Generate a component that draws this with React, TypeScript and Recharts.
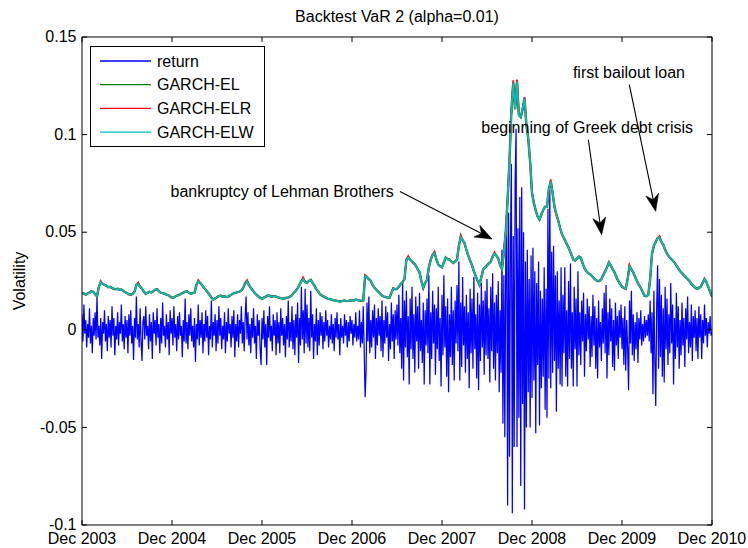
import React from 'react';
import { LineChart, Line, XAxis, YAxis, Legend, ReferenceLine, ReferenceDot, Label } from 'recharts';

const FONT = '"Liberation Sans", Arial, Helvetica, sans-serif';

// ---- axes ----
const yearTicks = [0, 1, 2, 3, 4, 5, 6, 7];
const yearLabels = ['Dec 2003', 'Dec 2004', 'Dec 2005', 'Dec 2006', 'Dec 2007', 'Dec 2008', 'Dec 2009', 'Dec 2010'];
const yTicks = [-0.1, -0.05, 0, 0.05, 0.1, 0.15];
const yLabels = ['-0.1', '-0.05', '0', '0.05', '0.1', '0.15'];
const seriesOrder = ['return', 'GARCH-EL', 'GARCH-ELR', 'GARCH-ELW'];

// ---- series (values in percent) ----
const returnsPerYear = 96;
const returnPct = [
  0.8,-0.6,1.3,-0.2,0.5,-0.9,0.3,-0.4,1.1,-0.7,0.2,-1.2,0.6,-0.3,0.9,-0.5,
  1.7,-0.4,0.2,-0.8,0.6,-1.5,0.4,-0.2,1.0,-0.6,0.3,-1.1,0.7,-0.4,0.5,-0.9,
  1.2,-0.3,0.6,-1.3,0.2,-0.5,0.9,-0.8,0.4,-0.2,1.3,-0.6,0.3,-1.0,0.7,-0.4,
  0.5,-1.2,0.8,-0.3,1.0,-0.7,0.2,-1.55,0.6,-0.4,1.7,-0.5,0.3,-0.9,1.1,-0.6,
  -1.6,0.4,0.7,-0.5,1.2,-0.3,0.2,-1.0,0.8,-0.6,0.4,-1.5,0.9,-0.2,0.5,-0.8,
  1.1,-0.4,0.3,-1.2,0.6,-0.7,1.4,-0.3,0.2,-0.9,0.8,-0.5,0.4,-1.3,1.0,-0.2,
  0.6,-0.8,1.2,-0.4,0.3,-1.1,0.7,-0.5,0.9,-0.3,0.2,-1.4,0.5,-0.6,1.6,-0.7,
  0.4,-1.0,0.8,-0.3,1.1,-0.6,0.2,-0.9,0.6,-1.65,0.3,-0.5,1.3,-0.8,0.5,-0.4,
  0.9,-1.2,0.3,-0.6,1.0,-0.4,0.7,-1.3,0.2,-0.5,1.5,-0.9,0.4,-0.3,0.8,-1.1,
  0.5,-0.7,1.2,-0.3,0.6,-1.0,0.2,-0.5,0.9,-1.2,0.4,-0.6,1.1,-0.2,0.3,-0.9,
  0.7,-0.4,1.0,-1.4,0.3,-0.6,0.8,-0.9,0.5,-0.2,1.2,-0.7,0.4,-1.1,0.6,1.7,
  -0.5,0.9,-0.8,0.3,-1.2,0.6,-0.4,1.1,-0.7,0.2,-1.5,0.8,-0.3,0.5,-1.0,-1.8,
  0.6,-0.5,1.0,-0.9,0.3,-1.8,0.7,-0.4,1.2,-0.6,0.2,-1.1,0.8,-0.3,0.5,-1.3,
  0.9,-0.7,0.4,-1.2,1.1,-0.3,0.6,-0.8,0.3,-1.4,0.7,-0.5,1.5,-0.9,0.4,-0.6,
  1.2,-1.0,0.5,-1.3,0.8,-0.4,1.4,-1.7,0.6,-0.8,2.2,-0.5,1.0,-1.2,2.1,-0.7,
  1.3,-0.9,0.6,-1.1,2.0,-0.4,0.8,-1.5,0.3,-0.6,1.1,-1.3,0.5,-0.8,0.9,-0.3,
  0.7,-1.0,0.4,-0.6,1.0,-0.3,0.5,-0.9,0.2,-0.5,0.8,-0.7,0.3,-1.1,0.6,-0.4,
  0.9,-0.5,0.3,-1.3,0.6,-0.4,0.2,-0.7,0.8,-0.3,0.5,-0.9,0.4,-0.6,0.7,-0.2,
  0.5,-0.8,0.3,-0.4,0.9,-0.6,0.2,-0.5,1.0,-0.9,0.4,-0.7,1.2,-1.0,-3.45,-2.1,
  1.4,-0.6,1.7,-1.2,0.5,-0.9,1.0,-0.4,1.3,-1.5,0.6,-0.8,1.1,-0.3,0.7,-1.1,
  1.5,-1.4,0.5,-0.7,1.2,-0.4,0.9,-1.6,0.3,-1.0,1.4,-0.6,0.8,-1.5,1.0,-0.5,
  1.3,-0.8,1.8,-1.2,0.6,-2.0,2.5,-2.6,1.5,-0.9,2.0,-1.4,0.7,-2.8,1.6,-1.0,
  2.2,-1.5,0.8,-2.2,1.7,-0.6,1.2,-2.0,1.9,-1.1,0.5,-1.7,1.4,-2.8,1.0,-0.8,
  1.6,-1.2,2.8,-2.8,0.9,-1.5,2.0,-0.7,1.3,-2.3,1.1,-1.0,2.2,-1.6,0.6,-2.9,
  1.8,-1.3,2.8,-0.9,1.2,-2.4,1.6,-3.2,0.8,-1.4,2.2,-1.8,1.0,-2.6,1.5,-0.7,
  2.3,-1.1,3.5,-2.6,1.4,-1.9,2.7,-0.8,1.2,-2.2,1.8,-1.5,0.9,-3.0,2.1,-1.2,
  1.6,-2.0,2.7,-1.0,0.8,-2.5,1.9,-3.1,1.3,-1.6,2.4,-0.9,1.5,-2.3,2.0,-1.3,
  2.6,-1.5,1.1,-2.7,2.2,-1.1,2.9,-2.0,1.4,-2.6,1.8,-1.2,2.5,-3.2,1.0,-2.2,
  4.1,-4.8,2.8,-5.5,3.6,5.5,-9.0,6.0,-6.5,4.5,8.5,-9.4,4.8,-6.0,7.5,10.3,
  -6.0,5.2,-4.5,6.8,-8.0,7.3,-3.8,5.0,-9.2,3.5,-5.0,4.1,-3.2,2.6,-5.0,3.8,
  -3.5,4.2,-2.6,3.0,-5.3,2.4,-1.8,3.5,-4.9,2.0,-3.0,1.6,-2.4,3.2,-4.1,2.1,
  -4.5,6.2,-2.5,7.2,-3.0,4.0,-2.2,4.3,-1.6,2.8,-4.2,3.0,-2.0,1.5,-2.8,3.2,
  -2.9,1.8,-1.2,3.2,-2.4,1.0,-2.9,2.5,-1.5,3.4,-2.0,0.9,-2.9,2.2,-1.0,1.6,
  -2.9,3.0,-1.3,0.9,-1.8,1.5,-0.6,1.9,-2.4,0.8,-1.1,1.6,-0.5,1.2,-1.9,0.7,
  -1.4,1.8,-0.8,1.2,-2.0,0.6,-2.5,1.5,-0.9,0.4,-1.6,1.1,-0.7,1.9,-1.2,2.3,
  -2.5,0.9,-1.3,1.6,-0.6,1.1,-1.9,0.5,-2.1,1.4,-0.8,0.7,-1.5,1.0,-0.4,1.3,
  -1.0,0.6,-1.8,1.2,-2.1,0.5,-0.9,-3.1,1.5,-0.7,2.0,-1.3,0.8,-1.6,0.4,-1.0,
  0.9,-1.7,0.6,-0.5,1.0,-0.8,0.3,-0.6,0.7,-0.4,0.5,-0.3,0.8,-0.6,1.5,-1.2,
  0.9,-3.3,2.0,-1.5,-3.9,1.2,3.3,-2.0,2.6,-1.4,1.8,-2.4,1.1,-2.7,2.2,-1.0,
  1.6,-1.8,0.8,-1.2,2.4,-0.7,1.3,-2.8,0.6,-1.5,1.9,-0.9,1.2,-2.0,0.5,-1.3,
  1.4,-0.8,0.6,-1.9,1.1,-0.5,1.7,-1.2,0.4,-0.9,1.3,-1.6,0.7,-0.4,1.0,-1.1,
  0.6,-1.5,1.2,-0.4,0.8,-1.5,0.5,-0.7,1.3,-0.3,0.6,-0.9,0.4,-0.2,0.7,-0.3,
  -0.1,
];

const varPerYear = 48;
const garchELPct = [
  1.9,1.85,1.8,1.86,1.9,1.97,1.95,1.82,1.72,2.2,2.45,2.36,2.3,2.26,2.18,2.2,
  2.15,2.1,2.08,2.1,2.05,2.06,2.0,1.92,1.88,1.82,1.8,1.84,1.95,2.3,2.35,2.2,
  2.1,1.95,1.85,1.9,1.95,1.92,1.98,2.05,2.08,1.98,1.9,1.88,1.85,1.8,1.78,1.7,
  1.64,1.66,1.72,1.76,1.8,1.86,1.9,1.95,1.97,1.9,1.85,1.88,1.9,2.3,2.48,2.4,
  2.3,2.15,2.05,1.92,1.8,1.65,1.55,1.6,1.68,1.72,1.75,1.7,1.72,1.68,1.7,1.76,
  1.82,1.88,1.9,1.93,1.95,2.02,2.15,2.4,2.48,2.3,2.15,2.02,1.9,1.8,1.72,1.64,
  1.58,1.65,1.7,1.76,1.75,1.7,1.72,1.72,1.68,1.64,1.62,1.6,1.6,1.64,1.65,1.7,
  1.78,1.9,2.0,2.12,2.3,2.5,2.6,2.45,2.4,2.5,2.56,2.4,2.25,2.08,1.95,1.82,
  1.75,1.7,1.65,1.6,1.58,1.55,1.52,1.5,1.48,1.46,1.45,1.48,1.5,1.47,1.48,1.5,
  1.52,1.5,1.55,1.52,1.5,1.48,1.5,2.75,2.7,2.6,2.5,2.3,2.15,2.05,1.95,1.85,
  1.75,1.7,1.68,1.64,1.65,1.9,2.12,2.08,2.1,2.2,2.35,2.45,2.6,3.6,3.7,3.6,
  3.5,3.4,3.3,3.1,2.95,2.5,2.15,2.4,2.56,3.2,3.6,3.85,3.93,3.6,3.35,3.25,
  3.2,3.45,3.7,3.62,3.6,3.5,3.42,3.5,3.6,4.3,4.75,4.6,4.44,4.1,3.8,3.55,
  3.3,3.0,2.75,2.5,2.3,2.7,3.1,3.2,3.3,3.4,3.5,3.75,3.9,3.8,3.65,3.3,
  3.1,4.0,5.0,6.7,8.7,11.2,12.65,11.3,12.7,11.0,10.9,11.3,11.85,10.5,9.8,8.6,
  7.0,6.5,6.1,5.8,5.65,5.9,6.15,6.3,6.3,7.2,7.6,7.0,6.3,5.9,5.6,5.2,
  4.9,4.7,4.5,4.3,4.1,3.85,3.6,3.55,3.65,3.75,3.7,3.4,3.15,3.0,2.9,2.85,
  2.75,2.65,2.55,2.5,2.5,2.6,2.8,3.0,3.2,3.45,3.3,3.1,2.95,2.7,2.5,2.35,
  2.2,2.15,2.1,2.6,3.25,3.1,2.95,2.7,2.5,2.3,2.15,1.95,1.75,1.72,1.78,2.6,
  3.9,4.3,4.5,4.7,4.75,4.5,4.35,4.1,3.9,3.75,3.65,3.55,3.45,3.3,3.15,3.0,
  2.9,2.8,2.7,2.6,2.5,2.35,2.25,2.15,2.1,2.15,2.2,2.4,2.6,2.45,2.2,1.95,
  1.7,
];
const garchELRPct = [
  1.9,1.85,1.8,1.86,1.9,1.97,1.95,1.82,1.72,2.2,2.5,2.36,2.3,2.26,2.18,2.2,
  2.15,2.1,2.08,2.1,2.05,2.06,2.0,1.92,1.88,1.82,1.8,1.84,1.95,2.3,2.42,2.2,
  2.1,1.95,1.85,1.9,1.95,1.92,1.98,2.05,2.08,1.98,1.9,1.88,1.85,1.8,1.78,1.7,
  1.64,1.66,1.72,1.76,1.8,1.86,1.9,1.95,1.97,1.9,1.85,1.88,1.9,2.3,2.55,2.4,
  2.3,2.15,2.05,1.92,1.8,1.65,1.55,1.6,1.68,1.72,1.75,1.7,1.72,1.68,1.7,1.76,
  1.82,1.88,1.9,1.93,1.95,2.02,2.15,2.4,2.55,2.3,2.15,2.02,1.9,1.8,1.72,1.64,
  1.58,1.65,1.7,1.76,1.75,1.7,1.72,1.72,1.68,1.64,1.62,1.6,1.6,1.64,1.65,1.7,
  1.78,1.9,2.0,2.12,2.3,2.5,2.68,2.45,2.4,2.5,2.56,2.4,2.25,2.08,1.95,1.82,
  1.75,1.7,1.65,1.6,1.58,1.55,1.52,1.5,1.48,1.46,1.45,1.48,1.5,1.47,1.48,1.5,
  1.52,1.5,1.55,1.52,1.5,1.48,1.5,2.8,2.7,2.6,2.5,2.3,2.15,2.05,1.95,1.85,
  1.75,1.7,1.68,1.64,1.65,1.9,2.12,2.08,2.1,2.2,2.35,2.45,2.6,3.6,3.78,3.6,
  3.5,3.4,3.3,3.1,2.95,2.5,2.15,2.4,2.56,3.2,3.6,3.85,4.0,3.6,3.35,3.25,
  3.2,3.45,3.7,3.62,3.6,3.5,3.42,3.5,3.6,4.3,4.85,4.6,4.44,4.1,3.8,3.55,
  3.3,3.0,2.75,2.5,2.3,2.7,3.1,3.2,3.3,3.4,3.5,3.75,3.98,3.8,3.65,3.3,
  3.1,4.0,5.0,6.7,8.7,11.2,12.78,11.3,12.82,11.0,10.9,11.3,11.92,10.5,9.8,8.6,
  7.0,6.5,6.1,5.8,5.65,5.9,6.15,6.3,6.3,7.2,7.7,7.0,6.3,5.9,5.6,5.2,
  4.9,4.7,4.5,4.3,4.1,3.85,3.6,3.55,3.65,3.75,3.7,3.4,3.15,3.0,2.9,2.85,
  2.75,2.65,2.55,2.5,2.5,2.6,2.8,3.0,3.2,3.45,3.3,3.1,2.95,2.7,2.5,2.35,
  2.2,2.15,2.1,2.6,3.32,3.1,2.95,2.7,2.5,2.3,2.15,1.95,1.75,1.72,1.78,2.6,
  3.9,4.3,4.5,4.7,4.8,4.5,4.35,4.1,3.9,3.75,3.65,3.55,3.45,3.3,3.15,3.0,
  2.9,2.8,2.7,2.6,2.5,2.35,2.25,2.15,2.1,2.15,2.2,2.4,2.6,2.45,2.2,1.95,
  1.7,
];
const garchELWPct = [
  1.9,1.85,1.8,1.86,1.9,1.97,1.95,1.82,1.72,2.2,2.45,2.36,2.3,2.26,2.18,2.2,
  2.15,2.1,2.08,2.1,2.05,2.06,2.0,1.92,1.88,1.82,1.8,1.84,1.95,2.3,2.35,2.2,
  2.1,1.95,1.85,1.9,1.95,1.92,1.98,2.05,2.08,1.98,1.9,1.88,1.85,1.8,1.78,1.7,
  1.64,1.66,1.72,1.76,1.8,1.86,1.9,1.95,1.97,1.9,1.85,1.88,1.9,2.3,2.48,2.4,
  2.3,2.15,2.05,1.92,1.8,1.65,1.55,1.6,1.68,1.72,1.75,1.7,1.72,1.68,1.7,1.76,
  1.82,1.88,1.9,1.93,1.95,2.02,2.15,2.4,2.48,2.3,2.15,2.02,1.9,1.8,1.72,1.64,
  1.58,1.65,1.7,1.76,1.75,1.7,1.72,1.72,1.68,1.64,1.62,1.6,1.6,1.64,1.65,1.7,
  1.78,1.9,2.0,2.12,2.3,2.5,2.6,2.45,2.4,2.5,2.56,2.4,2.25,2.08,1.95,1.82,
  1.75,1.7,1.65,1.6,1.58,1.55,1.52,1.5,1.48,1.46,1.45,1.48,1.5,1.47,1.48,1.5,
  1.52,1.5,1.55,1.52,1.5,1.48,1.5,2.75,2.7,2.6,2.5,2.3,2.15,2.05,1.95,1.85,
  1.75,1.7,1.68,1.64,1.65,1.9,2.12,2.08,2.1,2.2,2.35,2.45,2.6,3.6,3.7,3.6,
  3.5,3.4,3.3,3.1,2.95,2.5,2.15,2.4,2.56,3.2,3.6,3.85,3.93,3.6,3.35,3.25,
  3.2,3.45,3.7,3.62,3.6,3.5,3.42,3.5,3.6,4.3,4.75,4.6,4.44,4.1,3.8,3.55,
  3.3,3.0,2.75,2.5,2.3,2.7,3.1,3.2,3.3,3.4,3.5,3.75,3.9,3.8,3.65,3.3,
  3.1,4.0,5.0,6.7,8.7,11.2,12.65,11.3,12.7,11.0,10.9,11.3,11.85,10.5,9.8,8.6,
  7.0,6.5,6.1,5.8,5.65,5.9,6.15,6.3,6.3,7.2,7.6,7.0,6.3,5.9,5.6,5.2,
  4.9,4.7,4.5,4.3,4.1,3.85,3.6,3.55,3.65,3.75,3.7,3.4,3.15,3.0,2.9,2.85,
  2.75,2.65,2.55,2.5,2.5,2.6,2.8,3.0,3.2,3.45,3.3,3.1,2.95,2.7,2.5,2.35,
  2.2,2.15,2.1,2.6,3.25,3.1,2.95,2.7,2.5,2.3,2.15,1.95,1.75,1.72,1.78,2.6,
  3.9,4.3,4.5,4.7,4.75,4.5,4.35,4.1,3.9,3.75,3.65,3.55,3.45,3.3,3.15,3.0,
  2.9,2.8,2.7,2.6,2.5,2.35,2.25,2.15,2.1,2.15,2.2,2.4,2.6,2.45,2.2,1.95,
  1.7,
];

// ---- annotations (data coordinates: years since Dec 2003, value) ----
const notes = [
  { text: 'bankruptcy of Lehman Brothers', tx: 2.224, ty: 0.0681, from: { x: 3.533, y: 0.0708 }, to: { x: 4.556, y: 0.0465 } },
  { text: 'beginning of Greek debt crisis', tx: 5.613, ty: 0.1009, from: { x: 5.626, y: 0.0974 }, to: { x: 5.774, y: 0.0487 } },
  { text: 'first bailout loan', tx: 6.077, ty: 0.1291, from: { x: 6.081, y: 0.1256 }, to: { x: 6.374, y: 0.0607 } },
];

const toSeries = (vals: number[], perYear: number) => vals.map((v, i) => ({ x: i / perYear, v: v / 100 }));
const returnData = toSeries(returnPct, returnsPerYear);
const elData = toSeries(garchELPct, varPerYear);
const elrData = toSeries(garchELRPct, varPerYear);
const elwData = toSeries(garchELWPct, varPerYear);

const labelFor = (ticks: number[], labels: string[], v: number) => {
  const i = ticks.findIndex((t) => Math.abs(t - v) < 1e-9);
  return i >= 0 ? labels[i] : String(v);
};

const txt = { fontFamily: FONT, fontSize: 16, fill: '#000' } as const;

const LeftTick = (p: any) => (
  <g>
    <line x1={p.x} x2={p.x + 5} y1={p.y} y2={p.y} stroke="#000" strokeWidth={1} />
    <text x={p.x - 5.5} y={p.y} dy="0.33em" textAnchor="end" {...txt}>
      {labelFor(yTicks, yLabels, p.payload.value)}
    </text>
  </g>
);
const RightTick = (p: any) => <line x1={p.x} x2={p.x - 5} y1={p.y} y2={p.y} stroke="#000" strokeWidth={1} />;
const BottomTick = (p: any) => (
  <g>
    <line x1={p.x} x2={p.x} y1={p.y} y2={p.y - 5} stroke="#000" strokeWidth={1} />
    <text x={p.x} y={p.y + 18.5} textAnchor="middle" {...txt}>
      {labelFor(yearTicks, yearLabels, p.payload.value)}
    </text>
  </g>
);
const TopTick = (p: any) => <line x1={p.x} x2={p.x} y1={p.y} y2={p.y + 5} stroke="#000" strokeWidth={1} />;

const TitleContent = (p: any) => {
  const vb = p.viewBox || {};
  return (
    <text x={vb.x + vb.width / 2} y={22} textAnchor="middle" {...txt}>
      Backtest VaR 2 (alpha=0.01)
    </text>
  );
};
const YTitleContent = (p: any) => {
  const vb = p.viewBox || {};
  const cx = 25;
  const cy = vb.y + vb.height / 2;
  return (
    <text x={cx} y={cy} textAnchor="middle" transform={`rotate(-90, ${cx}, ${cy})`} {...txt}>
      Volatility
    </text>
  );
};

const ArrowShape = (p: any) => {
  const { x1, y1, x2, y2 } = p;
  const dx = x2 - x1;
  const dy = y2 - y1;
  const len = Math.hypot(dx, dy) || 1;
  const ux = dx / len;
  const uy = dy / len;
  const hl = 17;
  const hw = 6.5;
  const bx = x2 - ux * hl;
  const by = y2 - uy * hl;
  const nx = x2 - ux * hl * 0.7;
  const ny = y2 - uy * hl * 0.7;
  const px = -uy;
  const py = ux;
  const pts = `${x2},${y2} ${bx + px * hw},${by + py * hw} ${nx},${ny} ${bx - px * hw},${by - py * hw}`;
  return (
    <g>
      <line x1={x1} y1={y1} x2={nx} y2={ny} stroke="#000" strokeWidth={1.1} />
      <polygon points={pts} fill="#000" stroke="#000" strokeWidth={0.6} strokeLinejoin="miter" />
    </g>
  );
};

const NoteText = (text: string) => (p: any) => (
  <text x={p.cx} y={p.cy} textAnchor="middle" {...txt}>
    {text}
  </text>
);

const LegendBox = (props: any) => {
  const raw = (props && props.payload) || [];
  const items = [...raw].sort((a: any, b: any) => seriesOrder.indexOf(a.value) - seriesOrder.indexOf(b.value));
  return (
    <svg width={176} height={102} style={{ display: 'block' }}>
      <rect x={0.5} y={0.5} width={174} height={100} fill="#fff" stroke="#000" strokeWidth={1} />
      {items.map((it: any, i: number) => {
        const y = 15 + i * 23.7;
        return (
          <g key={i}>
            <line x1={10} x2={61} y1={y} y2={y} stroke={it.color} strokeWidth={1.3} />
            <text x={67} y={y} dy="0.36em" {...txt}>
              {it.value}
            </text>
          </g>
        );
      })}
    </svg>
  );
};

export default function App() {
  return (
    <div style={{ position: 'absolute', left: 0, top: 0, background: '#fff' }}>
      <LineChart width={748} height={548} margin={{ top: 0, right: 0, bottom: 0, left: 0 }} style={{ fontFamily: FONT }}>
        <XAxis
          xAxisId={0}
          dataKey="x"
          type="number"
          domain={[0, 7]}
          ticks={yearTicks}
          interval={0}
          height={23}
          tickSize={0}
          tickMargin={0}
          tickLine={false}
          axisLine={{ stroke: '#000', strokeWidth: 1 }}
          tick={<BottomTick />}
          allowDataOverflow
        />
        <XAxis
          xAxisId="top"
          orientation="top"
          dataKey="x"
          type="number"
          domain={[0, 7]}
          ticks={yearTicks}
          interval={0}
          height={37}
          tickSize={0}
          tickMargin={0}
          tickLine={false}
          axisLine={{ stroke: '#000', strokeWidth: 1 }}
          tick={<TopTick />}
          allowDataOverflow
          label={<Label content={<TitleContent />} />}
        />
        <YAxis
          yAxisId={0}
          type="number"
          domain={[-0.1, 0.15]}
          ticks={yTicks}
          interval={0}
          width={82}
          tickSize={0}
          tickMargin={0}
          tickLine={false}
          axisLine={{ stroke: '#000', strokeWidth: 1 }}
          tick={<LeftTick />}
          allowDataOverflow
          label={<Label content={<YTitleContent />} />}
        />
        <YAxis
          yAxisId="right"
          orientation="right"
          type="number"
          domain={[-0.1, 0.15]}
          ticks={yTicks}
          interval={0}
          width={36}
          tickSize={0}
          tickMargin={0}
          tickLine={false}
          axisLine={{ stroke: '#000', strokeWidth: 1 }}
          tick={<RightTick />}
          allowDataOverflow
        />
        <Legend
          layout="horizontal"
          verticalAlign="middle"
          align="center"
          itemSorter={null as any}
          content={<LegendBox />}
          wrapperStyle={{ left: 90, top: 46, width: 176, height: 102 }}
        />
        <Line data={returnData} dataKey="v" name="return" type="linear" stroke="#0000ff" strokeWidth={1.25} dot={false} activeDot={false} isAnimationActive={false} legendType="line" />
        <Line data={elData} dataKey="v" name="GARCH-EL" type="linear" stroke="#008000" strokeWidth={2.4} dot={false} activeDot={false} isAnimationActive={false} legendType="line" />
        <Line data={elrData} dataKey="v" name="GARCH-ELR" type="linear" stroke="#ff0000" strokeWidth={1.7} dot={false} activeDot={false} isAnimationActive={false} legendType="line" />
        <Line data={elwData} dataKey="v" name="GARCH-ELW" type="linear" stroke="#00bfbf" strokeWidth={1.7} dot={false} activeDot={false} isAnimationActive={false} legendType="line" />
        {notes.map((n, i) => (
          <ReferenceLine key={`a${i}`} segment={[n.from, n.to]} shape={ArrowShape} ifOverflow="visible" />
        ))}
        {notes.map((n, i) => (
          <ReferenceDot key={`t${i}`} x={n.tx} y={n.ty} r={0} shape={NoteText(n.text)} ifOverflow="visible" />
        ))}
      </LineChart>
    </div>
  );
}
